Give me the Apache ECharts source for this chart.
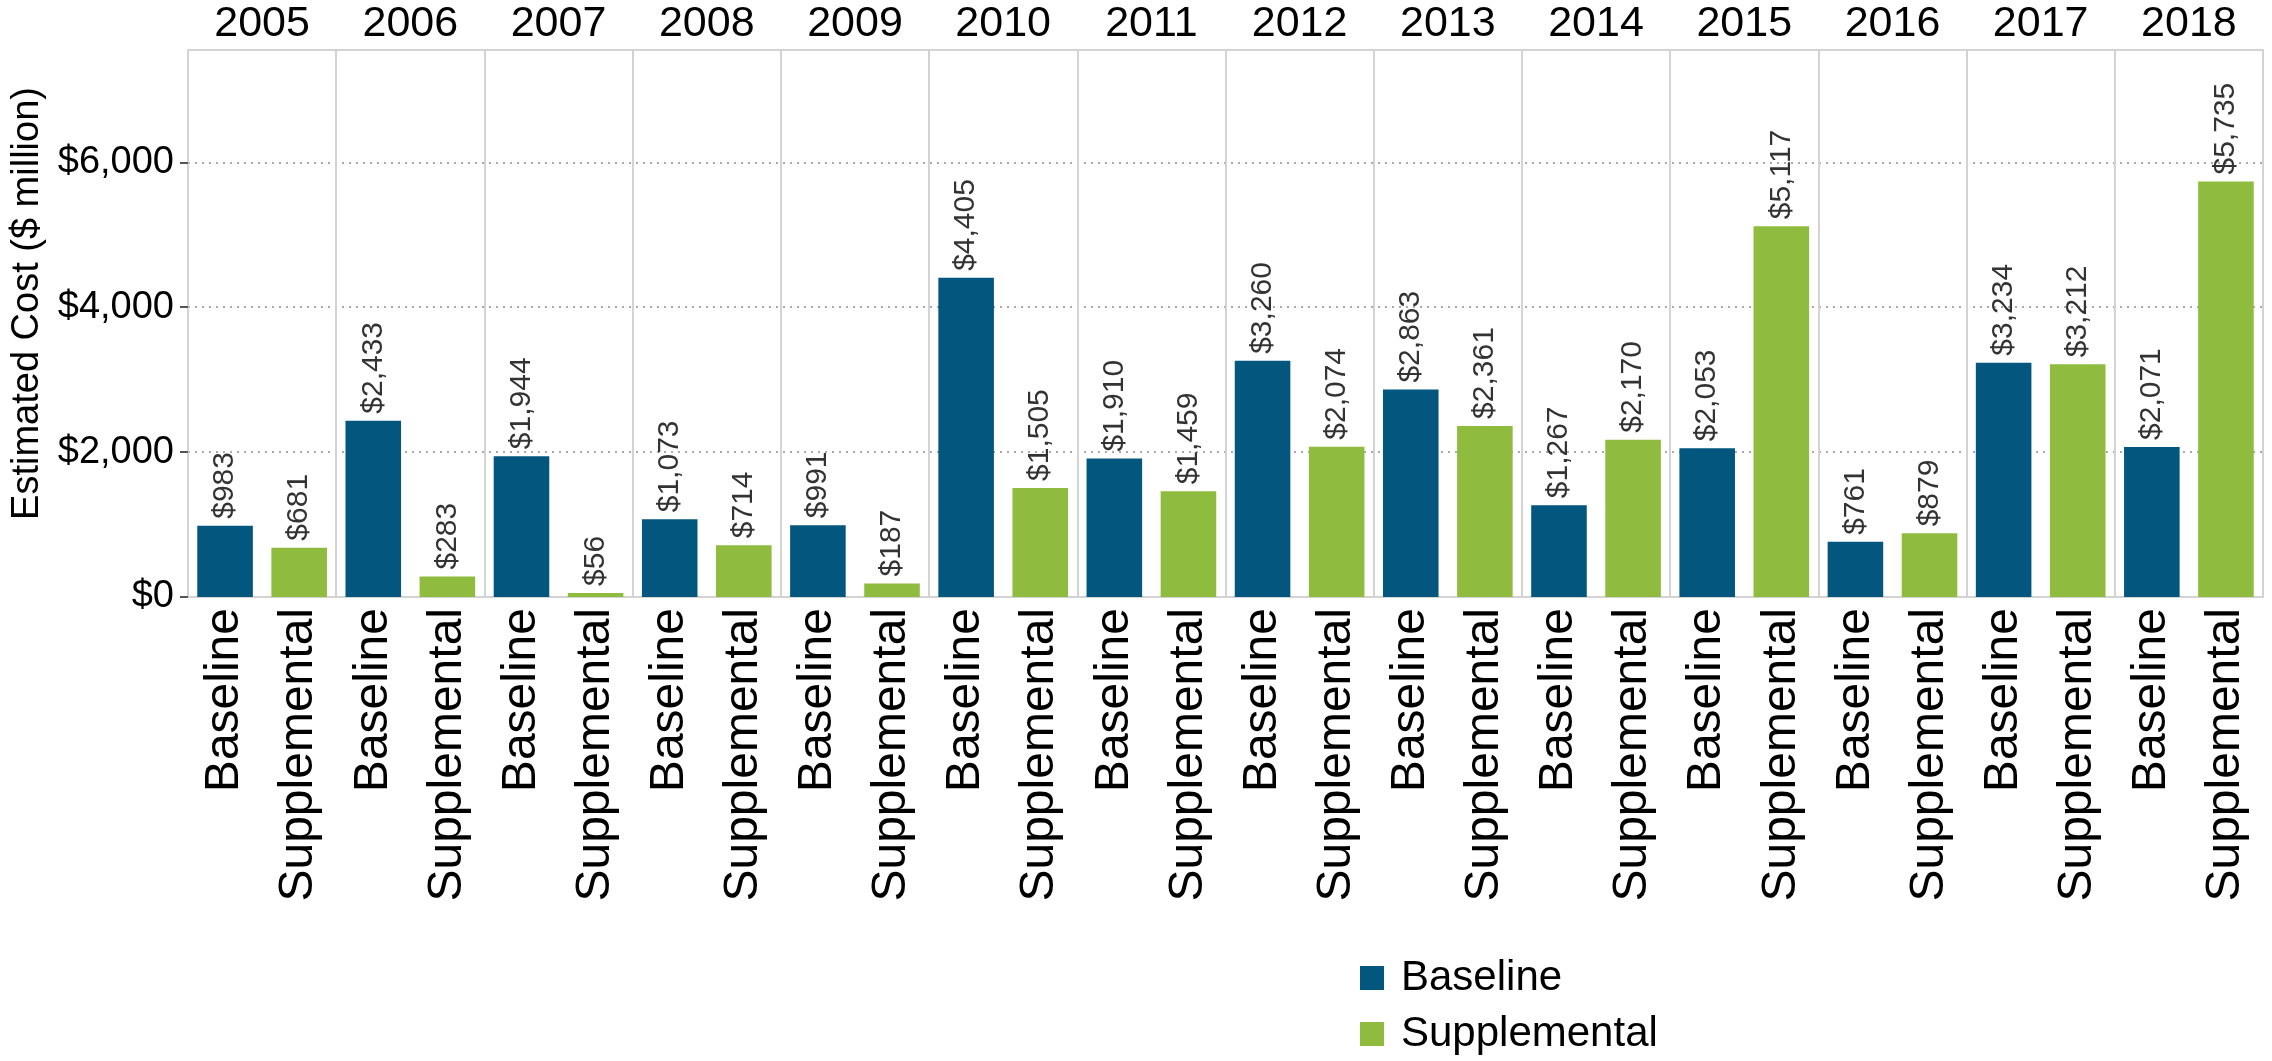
<!DOCTYPE html>
<html>
<head>
<meta charset="utf-8">
<script src="https://cdn.jsdelivr.net/npm/echarts@6/dist/echarts.min.js"></script>
<style>
  html, body { margin: 0; padding: 0; background: #fff; }
  #chart { width: 2272px; height: 1061px; }
</style>
</head>
<body>
<div id="chart"></div>
<script>
// data
var years = ['2005', '2006', '2007', '2008', '2009', '2010', '2011', '2012', '2013', '2014', '2015', '2016', '2017', '2018'];
var types = ['Baseline', 'Supplemental'];
var baseline = [983, 2433, 1944, 1073, 991, 4405, 1910, 3260, 2863, 1267, 2053, 761, 3234, 2071];
var supplemental = [681, 283, 56, 714, 187, 1505, 1459, 2074, 2361, 2170, 5117, 879, 3212, 5735];
var yTicks = [0, 2000, 4000, 6000];

var FONT = '"Liberation Sans", Arial, sans-serif';
var BLUE = '#03567E';
var GREEN = '#8FBB3F';
var PANE = '#d3d3d3';

// one slot per year/type pair, each series fills only its own slots
var cats = [];
var baseData = [];
var suppData = [];
for (var i = 0; i < years.length; i++) {
  cats.push(types[0]);
  cats.push(types[1]);
  baseData.push(baseline[i]);
  baseData.push('-');
  suppData.push('-');
  suppData.push(supplemental[i]);
}

function money(v) {
  return '$' + Number(v).toLocaleString('en-US');
}

var labelOpt = {
  show: true,
  position: 'top',
  rotate: 90,
  align: 'left',
  verticalAlign: 'middle',
  distance: 7,
  fontFamily: FONT,
  fontSize: 30,
  color: '#333',
  formatter: function (p) { return money(p.value); }
};

var myChart = echarts.init(document.getElementById('chart'));
myChart.setOption({
  animation: false,
  textStyle: { fontFamily: FONT },
  grid: { left: 188, right: 9, top: 50, bottom: 464 },
  legend: {
    orient: 'vertical',
    left: 1355,
    top: 952,
    height: 160,
    itemWidth: 24,
    itemHeight: 24,
    itemGap: 14,
    icon: 'rect',
    data: types,
    textStyle: { fontFamily: FONT, fontSize: 42, color: '#000', padding: [0, 0, 0, 12] }
  },
  xAxis: [
    {
      type: 'category',
      data: cats,
      position: 'bottom',
      axisLine: { lineStyle: { color: PANE, width: 2 } },
      axisTick: {
        interval: function (idx) { return idx % 2 === 1; },
        length: 5,
        lineStyle: { color: '#555', width: 2 }
      },
      axisLabel: {
        interval: 0,
        rotate: 90,
        margin: 11,
        fontFamily: FONT,
        fontSize: 48,
        color: '#000'
      },
      splitLine: { show: false }
    },
    {
      // year header on top
      type: 'category',
      data: years,
      position: 'top',
      axisLine: { lineStyle: { color: PANE, width: 2 } },
      axisTick: { interval: 0, length: 37, lineStyle: { color: PANE, width: 2 } },
      axisLabel: { interval: 0, margin: 4, fontFamily: FONT, fontSize: 43, color: '#000' },
      splitLine: { show: true, interval: 0, lineStyle: { color: PANE, width: 2 } }
    },
    {
      // pane dividers running down through the labels
      type: 'category',
      data: years,
      position: 'bottom',
      axisLine: { show: false },
      axisTick: { interval: 0, length: 315, lineStyle: { color: PANE, width: 2 } },
      axisLabel: { show: false },
      splitLine: { show: false }
    }
  ],
  yAxis: {
    type: 'value',
    min: 0,
    max: 7550,
    interval: 2000,
    name: 'Estimated Cost ($ million)',
    nameLocation: 'middle',
    nameRotate: 90,
    nameGap: 140,
    nameTextStyle: { fontFamily: FONT, fontSize: 38, color: '#000', padding: [0, 0, 0, 40] },
    axisLine: { show: false },
    axisTick: { show: true, length: 8, customValues: yTicks, lineStyle: { color: '#555', width: 2 } },
    axisLabel: {
      margin: 14,
      customValues: yTicks,
      fontFamily: FONT,
      fontSize: 38,
      color: '#000',
      formatter: function (v) { return money(v); }
    },
    splitLine: {
      show: true,
      lineStyle: { color: '#aaa', width: 2, type: [2, 5] }
    }
  },
  series: [
    {
      name: 'Baseline',
      type: 'bar',
      barWidth: '75%',
      barGap: '-100%',
      itemStyle: { color: BLUE },
      label: labelOpt,
      data: baseData
    },
    {
      name: 'Supplemental',
      type: 'bar',
      barWidth: '75%',
      barGap: '-100%',
      itemStyle: { color: GREEN },
      label: labelOpt,
      data: suppData
    }
  ]
});
</script>
</body>
</html>
